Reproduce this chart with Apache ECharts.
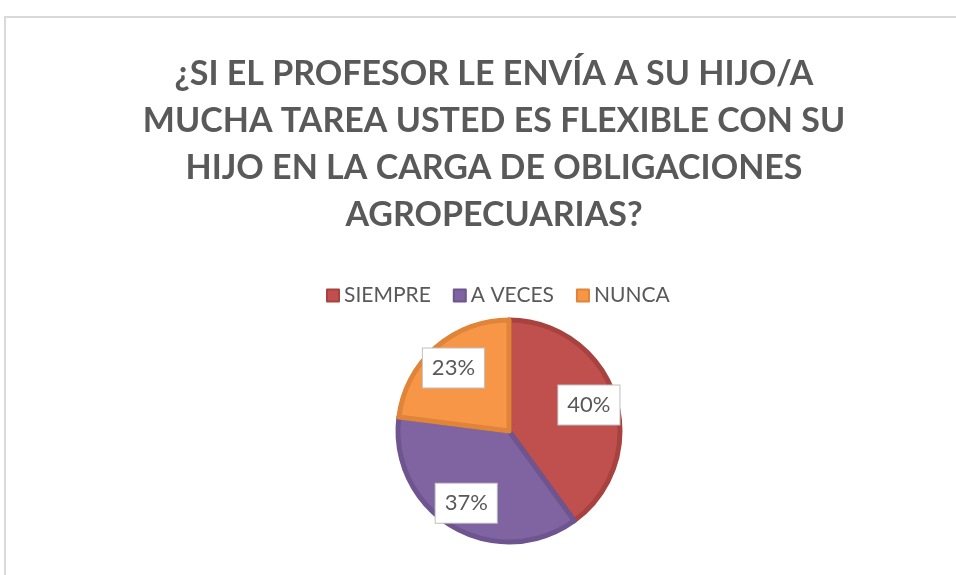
<!DOCTYPE html>
<html>
<head>
<meta charset="utf-8">
<script src="https://cdn.jsdelivr.net/npm/echarts@6/dist/echarts.min.js"></script>
<style>
  html, body { margin: 0; padding: 0; background: #fff; }
  #chart { width: 956px; height: 575px; }
</style>
</head>
<body>
<div id="chart"></div>
<script>
var titleText = "¿SI EL PROFESOR LE ENVÍA A SU HIJO/A\nMUCHA TAREA USTED ES FLEXIBLE CON SU\nHIJO EN LA CARGA DE OBLIGACIONES\nAGROPECUARIAS?";
var categories = ["SIEMPRE", "A VECES", "NUNCA"];
var values = [40, 37, 23];
var colors = ["#C0504D", "#8064A2", "#F79646"];
var edgeColors = ["#A8423F", "#6E558F", "#DF8438"];

var pieData = categories.map(function (c, i) {
  return {
    name: c,
    value: values[i],
    itemStyle: { color: colors[i], borderColor: edgeColors[i] }
  };
});
var labelData = categories.map(function (c, i) {
  return { name: c, value: values[i] };
});

var chart = echarts.init(document.getElementById('chart'));
chart.setOption({
  backgroundColor: '#fff',
  animation: false,
  graphic: [{
    type: 'rect',
    shape: { x: 5, y: 17, width: 1000, height: 700 },
    style: { fill: 'none', stroke: '#d9d9d9', lineWidth: 2 },
    silent: true
  }],
  title: {
    text: titleText,
    left: 489,
    textAlign: 'center',
    top: 46,
    textStyle: {
      fontFamily: 'Lato',
      fontWeight: 'bold',
      fontSize: 34,
      lineHeight: 47,
      color: '#595959'
    }
  },
  legend: {
    data: categories,
    left: 321,
    top: 280,
    icon: 'rect',
    itemWidth: 12,
    itemHeight: 12,
    itemGap: 22,
    textStyle: { fontFamily: 'Lato', fontSize: 21, color: '#595959' }
  },
  series: [{
    type: 'pie',
    center: [509, 431],
    radius: 111,
    startAngle: 90,
    clockwise: true,
    data: pieData,
    itemStyle: { borderWidth: 5 },
    label: { show: false },
    labelLine: { show: false },
    emphasis: { disabled: true }
  }, {
    // label-only ring: places the percent boxes further out than 'inside' would
    type: 'pie',
    center: [509, 431],
    radius: 162,
    startAngle: 90,
    clockwise: true,
    silent: true,
    data: labelData,
    itemStyle: { color: 'rgba(0,0,0,0)' },
    label: {
      show: true,
      position: 'inside',
      formatter: '{c}%',
      fontFamily: 'Lato',
      fontSize: 22,
      color: '#595959',
      backgroundColor: '#fff',
      borderColor: '#bfbfbf',
      borderWidth: 1,
      padding: [9, 9, 8, 9]
    },
    labelLine: { show: false },
    emphasis: { disabled: true }
  }]
});
</script>
</body>
</html>
